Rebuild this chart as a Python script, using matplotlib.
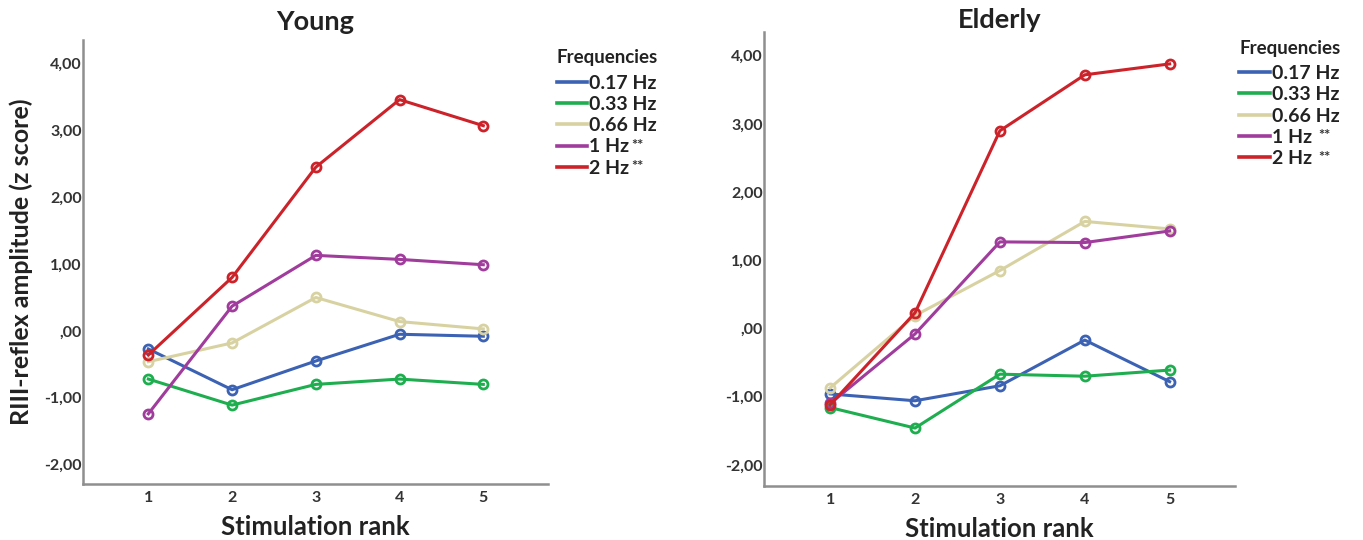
import matplotlib
matplotlib.use("Agg")
import matplotlib.pyplot as plt

plt.rcParams['font.family'] = ['Lato', 'DejaVu Sans']

ranks = [1, 2, 3, 4, 5]
freq_labels = ["0.17 Hz", "0.33 Hz", "0.66 Hz", "1 Hz", "2 Hz"]
freq_marks = ["", "", "", "**", "**"]
colors = ["#3c62b4", "#1fae4f", "#d8d2a2", "#a03c9c", "#cc2229"]

young_017 = [-0.27, -0.88, -0.45, -0.05, -0.08]
young_033 = [-0.72, -1.11, -0.80, -0.72, -0.80]
young_066 = [-0.46, -0.18, 0.50, 0.14, 0.03]
young_1 = [-1.24, 0.37, 1.13, 1.07, 0.99]
young_2 = [-0.36, 0.80, 2.45, 3.46, 3.07]

elderly_017 = [-0.96, -1.06, -0.84, -0.17, -0.78]
elderly_033 = [-1.16, -1.46, -0.67, -0.70, -0.61]
elderly_066 = [-0.87, 0.19, 0.85, 1.57, 1.46]
elderly_1 = [-1.10, -0.08, 1.27, 1.26, 1.43]
elderly_2 = [-1.12, 0.23, 2.90, 3.72, 3.88]

yticks = [-2, -1, 0, 1, 2, 3, 4]
ytick_labels = ["-2,00", "-1,00", ",00", "1,00", "2,00", "3,00", "4,00"]

fig = plt.figure(figsize=(13.63, 5.40), dpi=100)
ax1 = fig.add_axes([0.0609, 0.1037, 0.341, 0.822])
ax2 = fig.add_axes([0.5605, 0.100, 0.3456, 0.841])

legends = []

def draw(ax, series, title, ylim, legend_anchor, title_pad):
    for vals, c, lab in zip(series, colors, freq_labels):
        ax.plot(ranks, vals, color=c, lw=2.2, marker='o', ms=6.5,
                mfc='none', mec=c, mew=2.0, label=lab)
    ax.set_xlim(0.22, 5.77)
    ax.set_ylim(*ylim)
    ax.set_xticks(ranks)
    ax.set_xticklabels([str(r) for r in ranks])
    ax.set_yticks(yticks)
    ax.set_yticklabels(ytick_labels)
    ax.tick_params(axis='y', length=0, labelsize=11.5, labelcolor='#333333', pad=1)
    ax.tick_params(axis='x', length=0, labelsize=11.5, labelcolor='#333333', pad=5)
    for t in ax.get_xticklabels() + ax.get_yticklabels():
        t.set_fontweight('bold')
    for s in ['top', 'right']:
        ax.spines[s].set_visible(False)
    for s in ['left', 'bottom']:
        ax.spines[s].set_color('#8f8f8f')
        ax.spines[s].set_linewidth(1.8)
    ax.set_title(title, fontsize=19.5, fontweight='bold', color='#222222', pad=title_pad)
    ax.set_xlabel("Stimulation rank", fontsize=18.5, fontweight='bold',
                  color='#222222', labelpad=7)
    leg = ax.legend(loc='upper left', bbox_to_anchor=legend_anchor, frameon=False,
                    title="Frequencies", alignment='left', handlelength=1.55,
                    handletextpad=0.12, labelspacing=0.22, borderaxespad=0,
                    prop={'size': 14, 'weight': 'bold'},
                    title_fontproperties={'size': 13.5, 'weight': 'bold'})
    leg._legend_box.sep = 6
    for line in leg.get_lines():
        line.set_marker('')
        line.set_linewidth(2.6)
    for t in leg.get_texts():
        t.set_color('#222222')
    leg.get_title().set_color('#222222')
    legends.append(leg)

draw(ax1, [young_017, young_033, young_066, young_1, young_2], "Young",
     (-2.29, 4.35), (1.003, 0.997), 7)
draw(ax2, [elderly_017, elderly_033, elderly_066, elderly_1, elderly_2], "Elderly",
     (-2.31, 4.35), (0.993, 1.0), 3)

ax1.set_ylabel("RIII-reflex amplitude (z score)", fontsize=18, fontweight='bold',
               color='#222222', labelpad=8)

# small significance asterisks after legend labels
fig.canvas.draw()
renderer = fig.canvas.get_renderer()
inv = fig.transFigure.inverted()
for leg, gap in zip(legends, [2, 6]):
    for t, mark in zip(leg.get_texts(), freq_marks):
        if not mark:
            continue
        bb = t.get_window_extent(renderer)
        x0, y0 = inv.transform((bb.x1 + gap, (bb.y0 + bb.y1) / 2 + 1))
        fig.text(x0, y0, mark, fontsize=10.5, fontweight='bold', color='#333333',
                 ha='left', va='center')

fig.savefig("out.png", dpi=100, facecolor='white')
